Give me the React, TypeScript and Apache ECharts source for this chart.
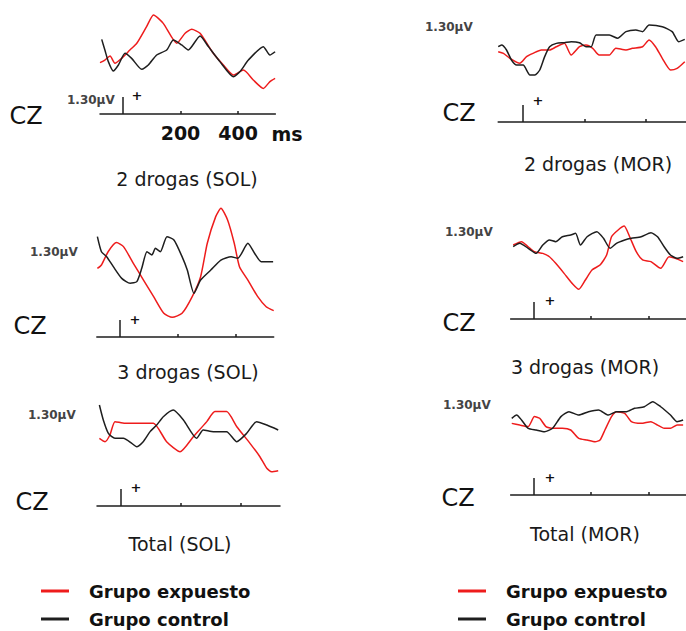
import React, { useEffect, useRef } from "react";
import * as echarts from "echarts";

// time in ms, amplitude in µV
const timeMin = -80;
const timeMax = 530;
const tickValues = [200, 400];
const calibration = 1.3; // µV calibration bar
const groups = ["Grupo expuesto", "Grupo control"];
const panelTitles = ["2 drogas (SOL)", "3 drogas (SOL)", "Total (SOL)", "2 drogas (MOR)", "3 drogas (MOR)", "Total (MOR)"];

const sol2Control = [[-74,1.74],[-63,0.92],[-51,0.03],[-34,-0.69],[-16,-0.23],[7,0.67],[30,0.28],[65,-0.56],[88,-0.23],[117,0.54],[152,0.92],[175,1.69],[204,1.31],[227,0.92],[268,2.0],[297,1.18],[337,0.03],[384,-1.13],[407,-0.74],[436,0.15],[488,1.18],[511,0.54],[529,0.79]];
const sol2Expuesto = [[-80,-0.05],[-63,0.15],[-45,0.46],[-28,-0.1],[-5,0.28],[24,0.92],[48,1.44],[82,2.72],[106,3.62],[140,2.97],[187,1.44],[216,2.21],[239,2.51],[268,2.21],[314,0.67],[349,-0.23],[384,-1.0],[419,-0.62],[453,-1.38],[488,-2.03],[511,-1.51],[529,-1.26]];

const sol3Control = [[-78,3.72],[-64,2.56],[-46,2.18],[-23,1.41],[6,0.51],[35,0.13],[58,0.26],[75,1.28],[93,2.56],[110,2.31],[122,2.82],[139,2.56],[162,3.72],[186,3.46],[214,2.18],[232,1.15],[255,-0.64],[278,0.38],[313,1.15],[348,1.92],[383,2.18],[406,2.05],[441,3.21],[464,2.44],[487,1.79],[528,1.79]];
const sol3Expuesto = [[-78,1.28],[-64,1.54],[-41,2.56],[-12,3.26],[12,2.95],[46,1.67],[81,0.38],[116,-0.9],[151,-2.18],[180,-2.49],[214,-2.18],[249,-0.9],[278,0.64],[301,3.21],[330,5.26],[348,5.9],[371,5.0],[394,3.21],[412,1.41],[441,0.38],[475,-0.9],[504,-1.67],[530,-1.97]];

const solTotalControl = [[-72,3.77],[-59,2.62],[-42,1.59],[-20,1.21],[8,1.21],[36,0.82],[52,0.56],[74,0.95],[97,1.72],[119,2.23],[141,2.87],[174,3.38],[208,2.62],[252,1.21],[274,1.85],[308,1.72],[352,1.72],[386,0.95],[419,1.59],[452,2.49],[486,2.23],[524,1.85]];
const solTotalExpuesto = [[-72,1.21],[-53,0.95],[-37,1.46],[-20,2.49],[13,2.36],[63,2.36],[108,2.36],[152,0.95],[197,0.18],[241,1.33],[286,2.49],[313,3.26],[352,3.26],[386,2.1],[430,0.82],[463,-0.21],[486,-1.1],[502,-1.36],[524,-1.28]];

const mor2Control = [[-80,1.79],[-69,1.92],[-53,1.54],[-37,0.77],[-20,0.38],[1,0.38],[23,-0.38],[39,-0.38],[55,0],[71,1.03],[87,1.79],[109,2.05],[135,2.1],[157,2.18],[184,2.1],[205,1.79],[222,1.79],[238,2.69],[281,2.69],[308,2.44],[335,2.95],[367,3.08],[389,2.95],[410,3.46],[453,3.33],[485,2.95],[506,2.18],[526,2.36]];
const mor2Expuesto = [[-80,1.41],[-63,1.28],[-42,0.9],[-10,0.51],[12,1.03],[33,1.28],[60,1.54],[87,1.54],[109,1.79],[135,2.05],[157,1.15],[184,1.79],[205,1.92],[227,1.67],[248,1.15],[281,1.15],[302,1.67],[335,1.54],[356,1.67],[389,1.79],[410,2.31],[431,1.79],[453,0.9],[480,0],[501,0.13],[526,0.64]];

const mor3Control = [[-71,1.56],[-48,1.82],[-19,1.44],[9,1.05],[32,1.69],[55,2.08],[77,1.95],[100,2.33],[129,2.46],[146,2.59],[163,1.69],[186,2.33],[220,2.72],[243,2.21],[266,1.44],[288,1.82],[317,2.08],[340,2.21],[374,2.33],[408,2.64],[431,2.33],[454,1.56],[476,0.92],[499,0.67],[520,0.79]];
const mor3Expuesto = [[-71,1.69],[-42,1.95],[-19,1.56],[3,1.18],[32,1.05],[55,0.79],[77,0.28],[106,-0.49],[134,-1.26],[157,-1.72],[180,-1.0],[203,-0.23],[231,0.15],[254,0.92],[271,2.33],[294,2.85],[315,3.15],[334,2.33],[357,1.18],[379,0.54],[408,0.41],[442,-0.1],[471,0.79],[493,0.67],[520,0.41]];

const morTotalControl = [[-76,1.9],[-59,2.15],[-42,1.77],[-19,1.13],[9,1.0],[38,0.87],[66,1.13],[95,2.03],[123,2.41],[157,2.15],[191,2.41],[226,2.54],[260,2.15],[288,2.41],[323,2.41],[351,2.67],[385,2.79],[414,3.18],[442,2.79],[476,2.15],[499,1.64],[520,1.77]];
const morTotalExpuesto = [[-76,1.51],[-48,1.38],[-19,1.26],[3,2.03],[21,1.9],[43,1.26],[66,1.13],[100,1.13],[129,1.0],[157,0.36],[186,0.23],[214,0.1],[231,0.23],[248,1.0],[271,2.03],[288,2.41],[317,2.28],[340,1.64],[374,1.51],[408,1.64],[431,1.38],[454,1.13],[476,1.13],[499,1.38],[520,1.38]];

const RED = "#ee1c1c";
const BLACK = "#1e1e1e";
const FONT = "DejaVu Sans";

const panels = [
  { exp: sol2Expuesto, ctl: sol2Control, left: 100, width: 175.4, top: 10, tx: 187, ty: 180, czx: 26, czy: 116, calx: 67, caly: 100, px: 137, py: 95, labels: true },
  { exp: sol3Expuesto, ctl: sol3Control, left: 96.8, width: 176.9, top: 233, tx: 188, ty: 373, czx: 30, czy: 326, calx: 30, caly: 252, px: 135, py: 319, labels: false },
  { exp: solTotalExpuesto, ctl: solTotalControl, left: 97, width: 183, top: 402, tx: 180, ty: 545, czx: 32, czy: 502, calx: 28, caly: 415, px: 136, py: 487, labels: false },
  { exp: mor2Expuesto, ctl: mor2Control, left: 498.2, width: 189.1, top: 18, tx: 598, ty: 165, czx: 459, czy: 113, calx: 425, caly: 27, px: 538, py: 100, labels: false },
  { exp: mor3Expuesto, ctl: mor3Control, left: 510.6, width: 178.4, top: 215, tx: 585, ty: 368, czx: 459, czy: 323, calx: 445, caly: 232, px: 550, py: 300, labels: false },
  { exp: morTotalExpuesto, ctl: morTotalControl, left: 510.6, width: 178.4, top: 391, tx: 585, ty: 535, czx: 458, czy: 498, calx: 443, caly: 405, px: 550, py: 477, labels: false },
];

export default function App() {
  const ref = useRef<HTMLDivElement>(null);
  useEffect(() => {
    if (!ref.current) return;
    const chart = echarts.init(ref.current, null, { renderer: "svg" });
    const grid: any[] = [];
    const xAxis: any[] = [];
    const yAxis: any[] = [];
    const series: any[] = [];
    const title: any[] = [];
    const graphic: any[] = [];
    panels.forEach((p, i) => {
      grid.push({ left: p.left, width: p.width, top: p.top, height: 104 });
      xAxis.push({
        gridIndex: i, type: "value", min: timeMin, max: timeMax, position: "bottom",
        axisLine: { show: true, onZero: false, lineStyle: { color: BLACK, width: 1.5 } },
        axisTick: { show: true, customValues: tickValues, inside: true, length: 3, lineStyle: { color: BLACK, width: 1.5 } },
        axisLabel: p.labels
          ? { show: true, customValues: tickValues, margin: 9, fontFamily: FONT, fontWeight: "bold", fontSize: 19, color: "#111" }
          : { show: false },
        splitLine: { show: false },
      });
      yAxis.push({ gridIndex: i, type: "value", min: -4, max: 4, show: false });
      series.push({
        name: groups[0], type: "line", xAxisIndex: i, yAxisIndex: i, data: p.exp,
        showSymbol: false, symbol: "none", clip: false, smooth: 0.2,
        lineStyle: { color: RED, width: 1.5 }, itemStyle: { color: RED },
      });
      series.push({
        name: groups[1], type: "line", xAxisIndex: i, yAxisIndex: i, data: p.ctl,
        showSymbol: false, symbol: "none", clip: false, smooth: 0.2,
        lineStyle: { color: BLACK, width: 1.5 }, itemStyle: { color: BLACK },
        markLine: {
          silent: true, symbol: "none", label: { show: false },
          lineStyle: { color: BLACK, width: 1.5, type: "solid" },
          data: [[{ coord: [0, -4] }, { coord: [0, -4 + calibration] }]],
        },
      });
      title.push({
        text: panelTitles[i], left: p.tx, top: p.ty - 11, textAlign: "center", padding: 0,
        textStyle: { fontFamily: FONT, fontSize: 19, fontWeight: "normal", color: "#1a1a1a" },
      });
      graphic.push({ type: "text", x: p.czx, y: p.czy, style: { text: "CZ", fontFamily: FONT, fontSize: 24, fill: "#111", textAlign: "center", textVerticalAlign: "middle" } });
      graphic.push({ type: "text", x: p.calx, y: p.caly, style: { text: "1.30µV", fontFamily: FONT, fontSize: 12, fontWeight: "bold", fill: "#444", textAlign: "left", textVerticalAlign: "middle" } });
      graphic.push({ type: "text", x: p.px, y: p.py, style: { text: "+", fontFamily: FONT, fontSize: 13, fontWeight: "bold", fill: "#111", textAlign: "center", textVerticalAlign: "middle" } });
    });
    graphic.push({ type: "text", x: 287, y: 134, style: { text: "ms", fontFamily: FONT, fontSize: 19, fontWeight: "bold", fill: "#111", textAlign: "center", textVerticalAlign: "middle" } });

    const legendBase = {
      orient: "vertical", data: groups, icon: "rect", itemWidth: 28, itemHeight: 3, itemGap: 8, padding: 0,
      selectedMode: false,
      textStyle: { fontFamily: FONT, fontWeight: "bold", fontSize: 18, lineHeight: 20, color: "#111", padding: [0, 0, 0, 15] },
    };
    chart.setOption({
      animation: false,
      backgroundColor: "#ffffff",
      grid, xAxis, yAxis, series, title, graphic,
      legend: [
        { ...legendBase, left: 41, top: 581 },
        { ...legendBase, left: 458, top: 581 },
      ],
    });
    return () => chart.dispose();
  }, []);
  return <div ref={ref} style={{ position: "fixed", left: 0, top: 0, width: 686, height: 631 }} />;
}
